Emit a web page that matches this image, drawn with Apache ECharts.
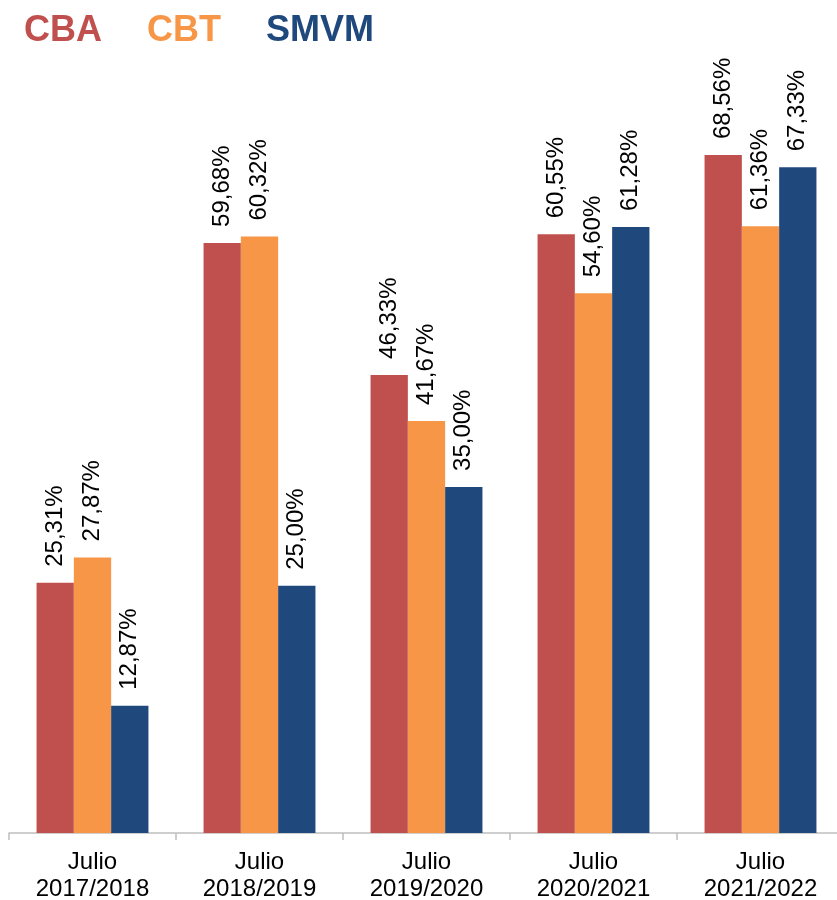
<!DOCTYPE html>
<html><head><meta charset="utf-8">
<script src="https://cdn.jsdelivr.net/npm/echarts@6/dist/echarts.min.js"></script>
<style>html,body{margin:0;padding:0;background:#fff}#c{width:837px;height:900px}</style>
</head><body><div id="c"></div>
<script>
const categories = ['Julio\n2017/2018','Julio\n2018/2019','Julio\n2019/2020','Julio\n2020/2021','Julio\n2021/2022'];
const cba = [25.31, 59.68, 46.33, 60.55, 68.56];
const cbt = [27.87, 60.32, 41.67, 54.60, 61.36];
const smvm = [12.87, 25.00, 35.00, 61.28, 67.33];
const colors = {CBA:'#C0504D', CBT:'#F79646', SMVM:'#1F497D'};

const chart = echarts.init(document.getElementById('c'));
const fmt = p => p.value.toFixed(2).replace('.', ',') + '%';
function mk(name, data){
  return {name, type:'bar', data, barGap:'0%', barCategoryGap:'33%',
    itemStyle:{color:colors[name]},
    label:{show:true, position:'top', rotate:90, align:'left', verticalAlign:'middle',
      distance:16, formatter:fmt, color:'#000', fontSize:24, fontFamily:'Liberation Sans, Arial'}};
}
chart.setOption({
  animation:false,
  textStyle:{fontFamily:'Liberation Sans, Arial'},
  legend:{left:14, top:8, icon:'rect', itemWidth:0, itemHeight:0, itemGap:40,
    data:[
      {name:'CBA', textStyle:{color:colors.CBA}},
      {name:'CBT', textStyle:{color:colors.CBT}},
      {name:'SMVM', textStyle:{color:colors.SMVM}}
    ],
    textStyle:{fontSize:36, fontWeight:'bold', fontFamily:'Liberation Sans, Arial'}},
  grid:{left:9, width:835, top:42, bottom:67, containLabel:false, outerBoundsMode:'none'},
  xAxis:{type:'category', data:categories,
    axisLine:{lineStyle:{color:'#BFBFBF', width:1.5}},
    axisTick:{show:true, length:7, lineStyle:{color:'#BFBFBF', width:1.5}},
    axisLabel:{color:'#000', fontSize:24, lineHeight:27, margin:16, fontFamily:'Liberation Sans, Arial'}},
  yAxis:{type:'value', min:0, max:80, show:false, splitLine:{show:false}},
  series:[mk('CBA', cba), mk('CBT', cbt), mk('SMVM', smvm)]
});
</script></body></html>
